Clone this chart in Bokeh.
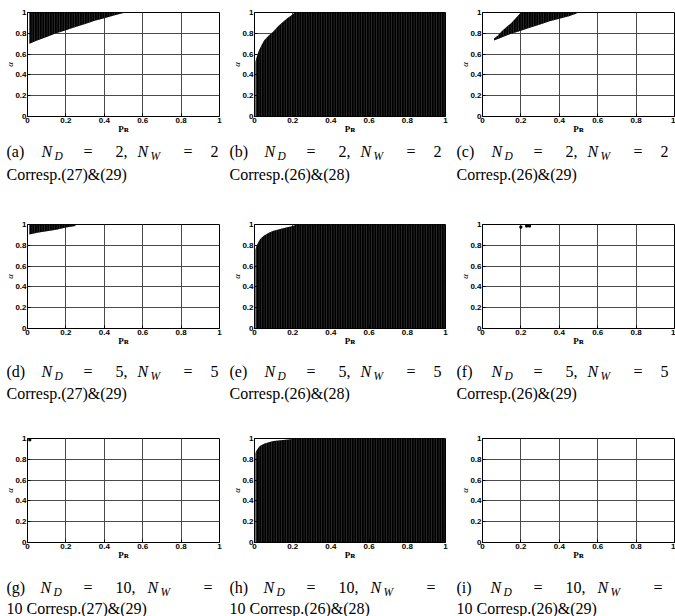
from bokeh.plotting import figure
from bokeh.layouts import row, column
from bokeh.models import Label, FixedTicker
from bokeh.embed import file_html
from bokeh.resources import INLINE

# ---------------- data ----------------
TICKS = [0, 0.2, 0.4, 0.6, 0.8, 1]
TICK_LABELS = ["0", "0.2", "0.4", "0.6", "0.8", "1"]

LETTERS = ["a", "b", "c", "d", "e", "f", "g", "h", "i"]
N_D = ["2", "2", "2", "5", "5", "5", "10", "10", "10"]
N_W = ["2", "2", "2", "5", "5", "5", "10", "10", "10"]
CORRESP = ["Corresp.(27)&(29)", "Corresp.(26)&(28)", "Corresp.(26)&(29)",
           "Corresp.(27)&(29)", "Corresp.(26)&(28)", "Corresp.(26)&(29)",
           "Corresp.(27)&(29)", "Corresp.(26)&(28)", "Corresp.(26)&(29)"]

# (a) N=2, (27)&(29): feasible band between lower bound and alpha=1
a_pr = [0.01, 0.05, 0.10, 0.15, 0.20, 0.25, 0.30, 0.35, 0.40, 0.45, 0.50]
a_lo = [0.70, 0.73, 0.765, 0.80, 0.83, 0.86, 0.89, 0.92, 0.945, 0.97, 0.995]
a_hi = [1.0, 1.0, 1.0, 1.0, 1.0, 1.0, 1.0, 1.0, 1.0, 1.0, 1.0]

# (b) N=2, (26)&(28): region below an upper bound
b_pr = [0.005, 0.01, 0.02, 0.03, 0.05, 0.075, 0.10, 0.125, 0.15, 0.175, 0.20, 0.21, 1.0]
b_lo = [0, 0, 0, 0, 0, 0, 0, 0, 0, 0, 0, 0, 0]
b_hi = [0.53, 0.56, 0.62, 0.66, 0.73, 0.78, 0.82, 0.87, 0.91, 0.95, 0.98, 1.0, 1.0]

# (c) N=2, (26)&(29)
c_pr = [0.06, 0.08, 0.10, 0.125, 0.15, 0.175, 0.20, 0.25, 0.30, 0.35, 0.40, 0.45, 0.49]
c_lo = [0.73, 0.745, 0.76, 0.78, 0.795, 0.81, 0.825, 0.855, 0.885, 0.915, 0.94, 0.965, 0.99]
c_hi = [0.75, 0.78, 0.82, 0.86, 0.90, 0.95, 1.0, 1.0, 1.0, 1.0, 1.0, 1.0, 1.0]

# (d) N=5, (27)&(29)
d_pr = [0.01, 0.05, 0.10, 0.15, 0.20, 0.25]
d_lo = [0.905, 0.92, 0.935, 0.95, 0.97, 0.985]
d_hi = [1.0, 1.0, 1.0, 1.0, 1.0, 1.0]

# (e) N=5, (26)&(28)
e_pr = [0.005, 0.01, 0.02, 0.03, 0.05, 0.075, 0.10, 0.15, 0.20, 0.22, 1.0]
e_lo = [0, 0, 0, 0, 0, 0, 0, 0, 0, 0, 0]
e_hi = [0.76, 0.79, 0.83, 0.86, 0.895, 0.92, 0.94, 0.965, 0.985, 1.0, 1.0]

# (f) N=5, (26)&(29): isolated feasible points
f_pr = [0.20, 0.23, 0.245]
f_al = [0.975, 0.985, 0.985]

# (g) N=10, (27)&(29): single point
g_pr = [0.012]
g_al = [0.987]

# (h) N=10, (26)&(28)
h_pr = [0.005, 0.01, 0.02, 0.03, 0.05, 0.075, 0.10, 0.15, 0.20, 0.22, 1.0]
h_lo = [0, 0, 0, 0, 0, 0, 0, 0, 0, 0, 0]
h_hi = [0.86, 0.88, 0.91, 0.93, 0.95, 0.965, 0.975, 0.985, 0.995, 1.0, 1.0]

# (i) N=10, (26)&(29): empty
REGIONS = [(a_pr, a_lo, a_hi), (b_pr, b_lo, b_hi), (c_pr, c_lo, c_hi),
           (d_pr, d_lo, d_hi), (e_pr, e_lo, e_hi), None,
           None, (h_pr, h_lo, h_hi), None]
POINTS = [None, None, None, None, None, (f_pr, f_al), (g_pr, g_al), None, None]

# ---------------- layout (pixels) ----------------
COL_W = [227, 227, 221]
FRAME_W = [192, 191, 192]
LEFT = [27, 27, 28]
FRAME_H = 104
TOP = [12, 4, 4]
BOTTOM = 21
CAP_H = [83, 85, 53]
CAP_X = [6, 2, 2]
CAP_BASE = [(14, 37), (22, 44), (24, 45)]

SERIF = "Liberation Serif"
SANS = "Liberation Sans"


def cap_text(f, x, y, text, size, style="normal"):
    f.add_layout(Label(x=x, y=y, text=text, text_font=SERIF,
                       text_font_size=size, text_font_style=style,
                       text_color="black", text_align="left",
                       text_baseline="alphabetic"))


rows = []
for r in range(3):
    prow, crow = [], []
    for c in range(3):
        k = 3 * r + c
        W = COL_W[c]
        fw = FRAME_W[c]
        H = TOP[r] + FRAME_H + BOTTOM
        p = figure(width=W, height=H, x_range=(0, 1), y_range=(0, 1),
                   output_backend="svg", toolbar_location=None,
                   min_border_left=LEFT[c], min_border_right=W - LEFT[c] - fw,
                   min_border_top=TOP[r], min_border_bottom=BOTTOM)
        p.background_fill_color = "white"
        p.border_fill_color = "white"
        p.outline_line_color = "black"
        p.outline_line_width = 1
        for ax in (p.xaxis[0], p.yaxis[0]):
            ax.ticker = FixedTicker(ticks=TICKS)
            ax.major_label_overrides = dict(zip(TICKS, TICK_LABELS))
            ax.major_label_text_font = SANS
            ax.major_label_text_font_style = "bold"
            ax.major_label_text_font_size = "8px"
            ax.major_label_text_color = "black"
            ax.major_label_standoff = 1
            ax.major_tick_in = 3
            ax.major_tick_out = 0
            ax.major_tick_line_color = "black"
            ax.minor_tick_line_color = None
            ax.axis_line_color = "black"
            ax.axis_label_text_color = "black"
        p.xaxis[0].axis_label = "P\u0280"
        p.xaxis[0].axis_label_text_font = SERIF
        p.xaxis[0].axis_label_text_font_style = "bold"
        p.xaxis[0].axis_label_text_font_size = "9px"
        p.xaxis[0].axis_label_standoff = -2
        p.yaxis[0].axis_label = "α"
        p.yaxis[0].axis_label_text_font = SERIF
        p.yaxis[0].axis_label_text_font_style = "italic"
        p.yaxis[0].axis_label_text_font_size = "9px"
        p.yaxis[0].axis_label_standoff = -3
        for g in (p.xgrid[0], p.ygrid[0]):
            g.ticker = FixedTicker(ticks=TICKS)
            g.grid_line_color = "#4a4a4a"
            g.grid_line_width = 1

        reg = REGIONS[k]
        if reg is not None:
            xs, lo, hi = reg
            p.varea(x=xs, y1=lo, y2=hi, fill_color="black",
                    hatch_pattern="vertical_line", hatch_color="#3a3a3a",
                    hatch_scale=2.5, hatch_weight=0.8)
        pts = POINTS[k]
        if pts is not None:
            p.scatter(x=pts[0], y=pts[1], marker="square", size=2,
                      color="black")
        prow.append(p)

        # caption panel
        CH = CAP_H[r]
        cf = figure(width=W, height=CH, x_range=(0, W), y_range=(CH, 0),
                    x_axis_type=None, y_axis_type=None,
                    output_backend="svg", toolbar_location=None,
                    min_border=0, min_border_left=0, min_border_right=0,
                    min_border_top=0, min_border_bottom=0)
        cf.outline_line_color = None
        cf.background_fill_color = "white"
        cf.border_fill_color = "white"
        x0 = CAP_X[c]
        b1, b2 = CAP_BASE[r]
        nd, nw = N_D[k], N_W[k]
        if len(nd) == 1:
            pieces = [(0, "(%s)" % LETTERS[k], "rm"), (35, "N", "it"), (48, "D", "sub"),
                      (77, "=", "rm"), (109, nd + ",", "rm"), (131, "N", "it"),
                      (144, "W", "sub"), (177, "=", "rm"), (204, nw, "rm")]
            line2 = CORRESP[k]
        else:
            pieces = [(0, "(%s)" % LETTERS[k], "rm"), (34, "N", "it"), (47, "D", "sub"),
                      (77, "=", "rm"), (109, nd + ",", "rm"), (141, "N", "it"),
                      (154, "W", "sub"), (197, "=", "rm")]
            line2 = nw + " " + CORRESP[k]
        for off, txt, kind in pieces:
            if kind == "rm":
                cap_text(cf, x0 + off, b1, txt, "16px")
            elif kind == "it":
                cap_text(cf, x0 + off, b1, txt, "16px", "italic")
            else:
                cap_text(cf, x0 + off, b1 + 4, txt, "11.5px", "italic")
        cap_text(cf, x0, b2, line2, "16px")
        crow.append(cf)
    rows.append(row(*prow, spacing=0))
    rows.append(row(*crow, spacing=0))

layout = column(*rows, spacing=0)

with open("out.html", "w") as fh_out:
    fh_out.write(file_html(layout, INLINE))
